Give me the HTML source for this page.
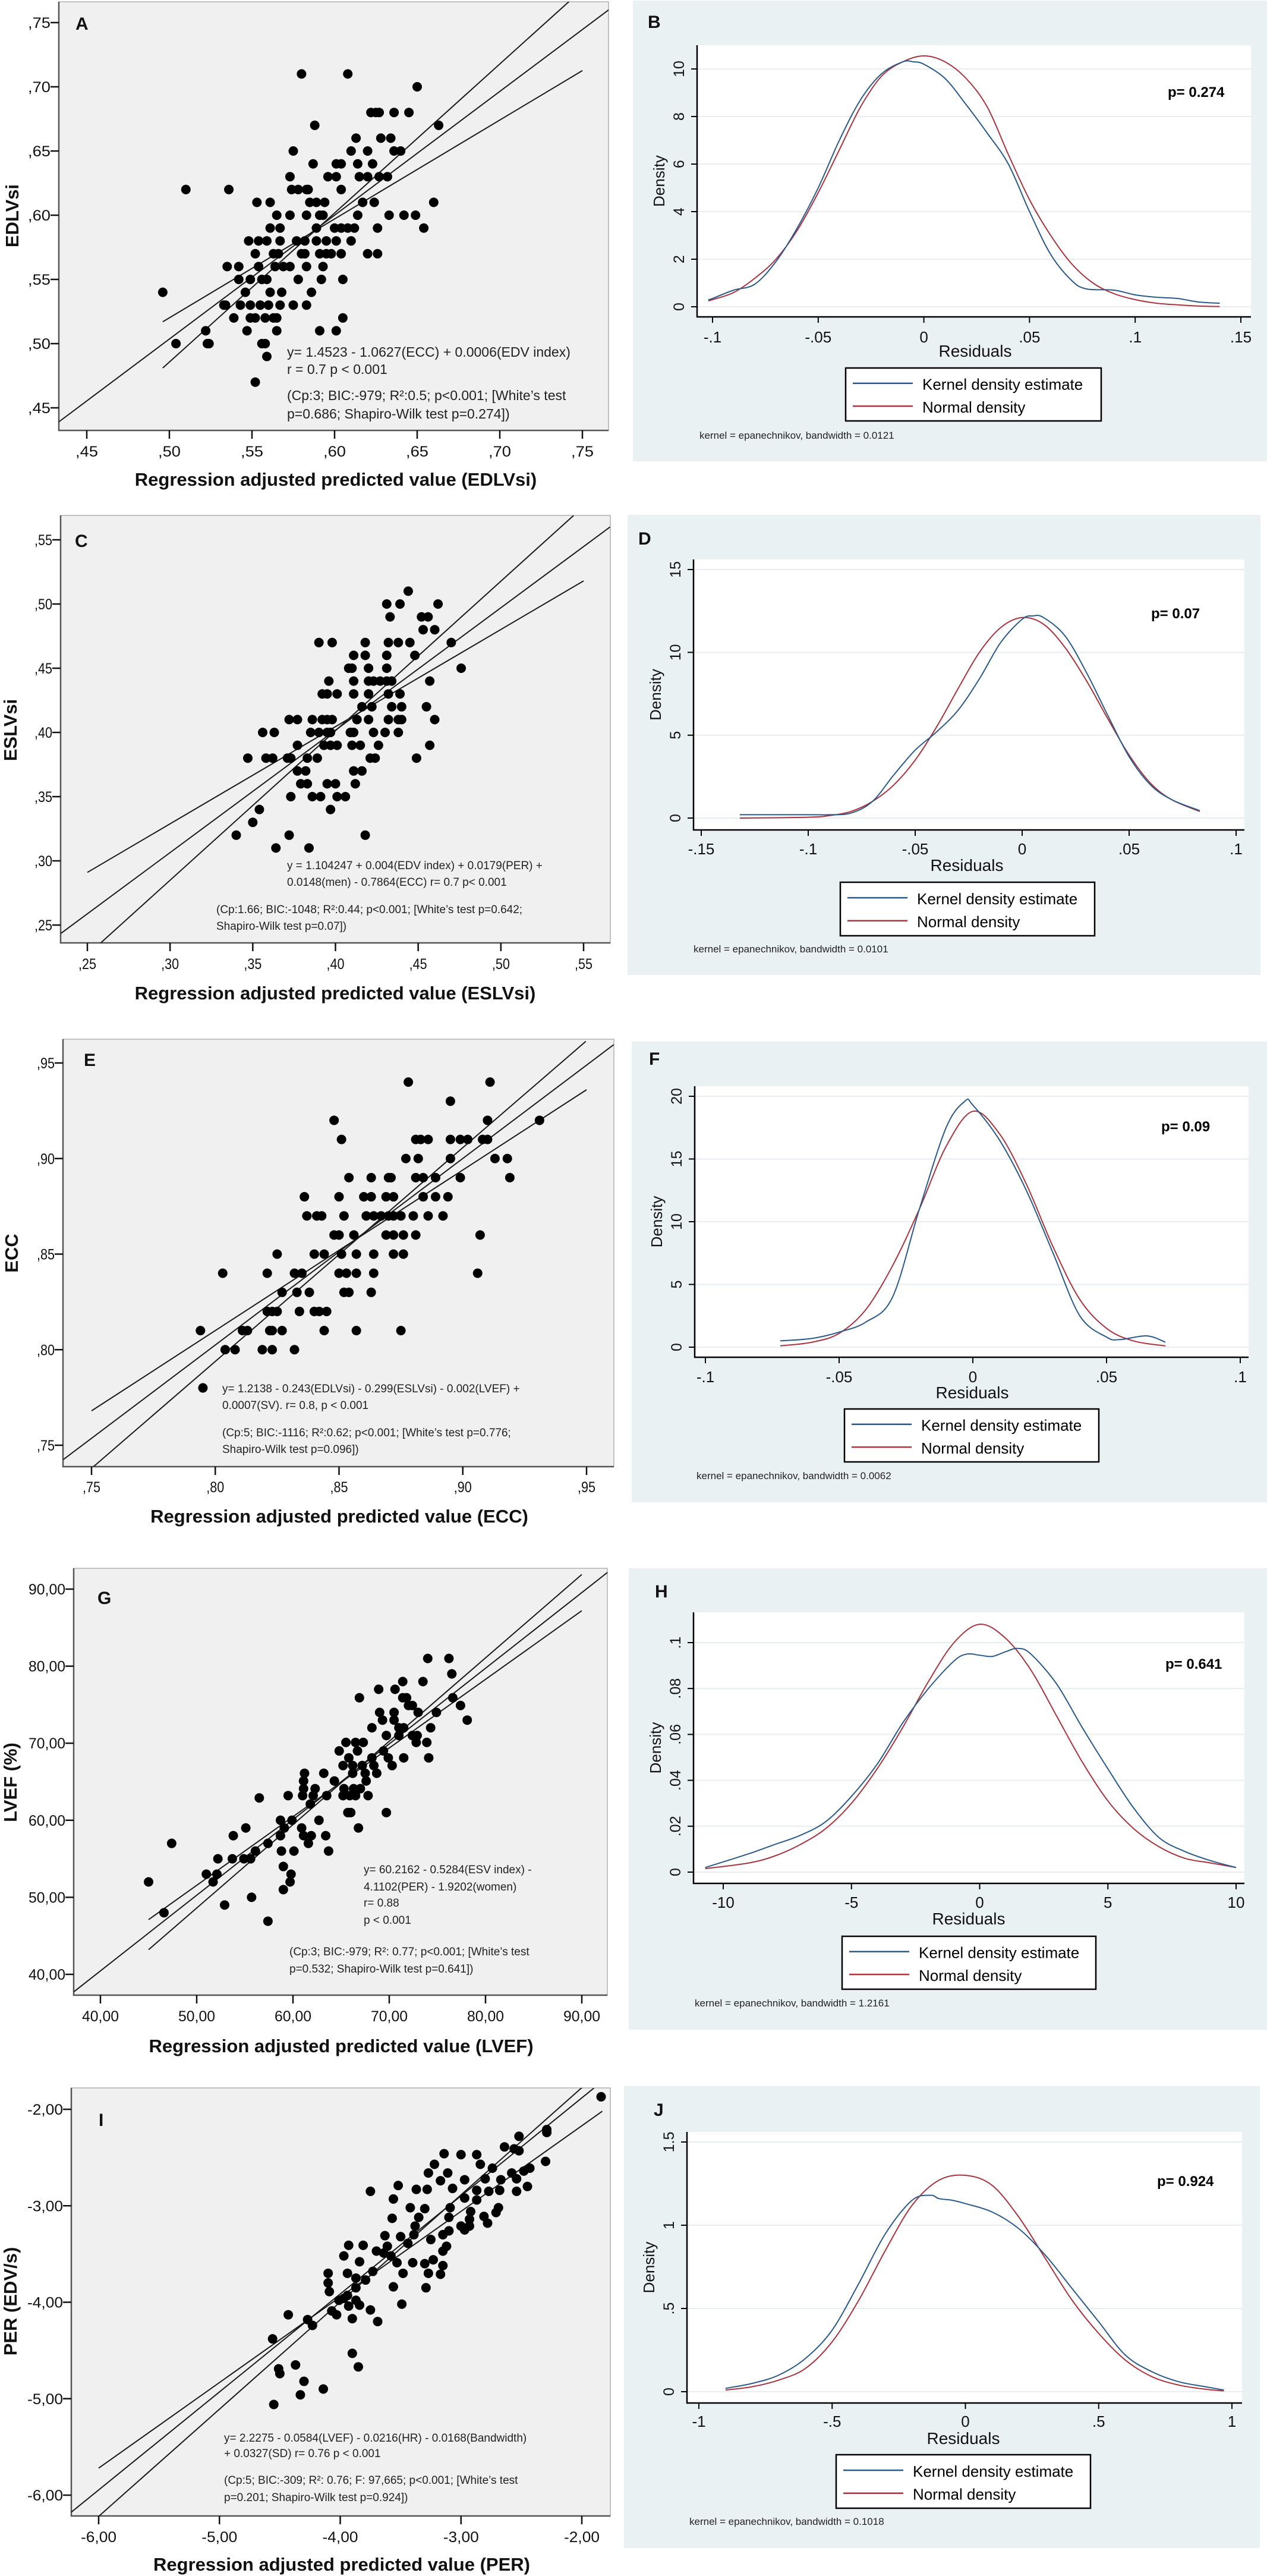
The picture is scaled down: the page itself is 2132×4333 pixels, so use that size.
<!DOCTYPE html>
<html><head><meta charset="utf-8">
<style>
html,body{margin:0;padding:0;background:#fff;}
svg{display:block;}
text{font-family:"Liberation Sans",sans-serif;}
</style></head>
<body>
<svg id="fig" xmlns="http://www.w3.org/2000/svg" width="2132" height="4333" viewBox="0 0 2132 4333"></svg>
<script>
// ---------- scatter data (x = predicted, y = observed) ----------
const pointsA = [[.580,.71],[.608,.71],[.650,.70],[.622,.68],[.625,.68],[.627,.68],[.636,.68],[.645,.68],[.588,.67],[.663,.67],[.613,.66],[.628,.66],[.634,.66],
[.575,.65],[.610,.65],[.620,.65],[.636,.65],[.640,.65],[.587,.64],[.601,.64],[.604,.64],[.614,.64],[.623,.64],[.573,.63],[.596,.63],[.601,.63],[.615,.63],[.620,.63],[.627,.63],[.632,.63],
[.510,.62],[.536,.62],[.574,.62],[.578,.62],[.583,.62],[.584,.62],[.604,.62],[.553,.61],[.561,.61],[.585,.61],[.589,.61],[.594,.61],[.617,.61],[.624,.61],[.660,.61],
[.565,.60],[.573,.60],[.583,.60],[.591,.60],[.593,.60],[.614,.60],[.633,.60],[.642,.60],[.649,.60],[.561,.59],[.567,.59],[.589,.59],[.600,.59],[.604,.59],[.608,.59],[.612,.59],[.626,.59],[.654,.59],
[.548,.58],[.554,.58],[.559,.58],[.567,.58],[.577,.58],[.582,.58],[.589,.58],[.595,.58],[.601,.58],[.610,.58],[.552,.57],[.563,.57],[.566,.57],[.580,.57],[.582,.57],[.591,.57],[.595,.57],[.598,.57],[.604,.57],[.620,.57],[.626,.57],
[.535,.56],[.542,.56],[.554,.56],[.564,.56],[.569,.56],[.573,.56],[.583,.56],[.593,.56],[.542,.55],[.549,.55],[.556,.55],[.559,.55],[.578,.55],[.592,.55],[.605,.55],
[.496,.54],[.546,.54],[.561,.54],[.568,.54],[.586,.54],[.533,.53],[.534,.53],[.543,.53],[.549,.53],[.555,.53],[.560,.53],[.567,.53],[.575,.53],[.583,.53],
[.539,.52],[.549,.52],[.552,.52],[.558,.52],[.563,.52],[.565,.52],[.605,.52],[.522,.51],[.547,.51],[.565,.51],[.591,.51],[.601,.51],[.504,.50],[.523,.50],[.524,.50],[.556,.50],[.558,.50],[.559,.49],[.552,.47]];
const pointsC = [[.444,.51],[.431,.50],[.439,.50],[.462,.50],[.433,.49],[.452,.49],[.456,.49],[.453,.48],[.460,.48],[.390,.47],[.398,.47],[.418,.47],[.432,.47],[.438,.47],[.445,.47],[.470,.47],
[.411,.46],[.418,.46],[.431,.46],[.448,.46],[.408,.45],[.410,.45],[.420,.45],[.431,.45],[.476,.45],[.396,.44],[.411,.44],[.420,.44],[.423,.44],[.427,.44],[.431,.44],[.434,.44],[.457,.44],
[.392,.43],[.395,.43],[.401,.43],[.411,.43],[.420,.43],[.432,.43],[.439,.43],[.416,.42],[.422,.42],[.434,.42],[.440,.42],[.455,.42],
[.372,.41],[.377,.41],[.386,.41],[.392,.41],[.395,.41],[.398,.41],[.413,.41],[.420,.41],[.432,.41],[.438,.41],[.440,.41],[.460,.41],
[.356,.40],[.363,.40],[.385,.40],[.390,.40],[.395,.40],[.397,.40],[.409,.40],[.411,.40],[.423,.40],[.430,.40],[.438,.40],
[.377,.39],[.393,.39],[.397,.39],[.401,.39],[.410,.39],[.415,.39],[.426,.39],[.457,.39],[.347,.38],[.358,.38],[.362,.38],[.371,.38],[.373,.38],[.383,.38],[.389,.38],[.421,.38],[.424,.38],[.449,.38],
[.377,.37],[.382,.37],[.411,.37],[.416,.37],[.379,.36],[.383,.36],[.395,.36],[.400,.36],[.412,.36],[.373,.35],[.386,.35],[.391,.35],[.401,.35],[.406,.35],
[.354,.34],[.397,.34],[.350,.33],[.340,.32],[.372,.32],[.418,.32],[.364,.31],[.384,.31]];
const pointsE = [[.878,.94],[.911,.94],[.895,.93],[.848,.92],[.910,.92],[.931,.92],[.851,.91],[.881,.91],[.883,.91],[.886,.91],[.895,.91],[.899,.91],[.902,.91],[.908,.91],[.910,.91],
[.877,.90],[.882,.90],[.895,.90],[.913,.90],[.918,.90],[.854,.89],[.863,.89],[.870,.89],[.871,.89],[.881,.89],[.884,.89],[.889,.89],[.899,.89],[.919,.89],
[.836,.88],[.850,.88],[.860,.88],[.863,.88],[.869,.88],[.872,.88],[.884,.88],[.889,.88],[.894,.88],
[.837,.87],[.841,.87],[.843,.87],[.852,.87],[.861,.87],[.864,.87],[.867,.87],[.870,.87],[.872,.87],[.875,.87],[.880,.87],[.886,.87],[.892,.87],
[.848,.86],[.850,.86],[.856,.86],[.869,.86],[.872,.86],[.876,.86],[.881,.86],[.907,.86],[.825,.85],[.840,.85],[.844,.85],[.851,.85],[.857,.85],[.864,.85],[.872,.85],[.876,.85],
[.803,.84],[.821,.84],[.832,.84],[.835,.84],[.850,.84],[.853,.84],[.857,.84],[.864,.84],[.906,.84],[.827,.83],[.833,.83],[.838,.83],[.852,.83],[.854,.83],[.863,.83],
[.821,.82],[.823,.82],[.825,.82],[.834,.82],[.840,.82],[.842,.82],[.845,.82],[.794,.81],[.811,.81],[.813,.81],[.822,.81],[.823,.81],[.827,.81],[.844,.81],[.857,.81],[.875,.81],
[.804,.80],[.808,.80],[.819,.80],[.823,.80],[.832,.80],[.795,.78]];
const pointsG = [[74.0,81.0],[76.2,81.0],[76.5,79.0],[71.4,78.0],[73.5,78.0],[66.9,75.9],[68.9,77.0],[70.6,77.0],[71.4,75.9],[71.8,75.9],[72.0,74.9],[72.4,74.9],[76.6,75.9],[77.4,74.9],[78.1,73.0],
[69.0,74.0],[70.5,74.0],[73.0,74.0],[74.9,74.0],[69.3,73.0],[70.5,73.0],[71.0,72.0],[71.5,72.0],[68.2,72.0],[74.3,72.0],[69.7,71.0],[71.0,71.0],[72.4,71.0],[72.9,71.0],
[65.5,70.1],[66.5,70.1],[67.3,70.1],[72.8,70.1],[73.9,70.1],[64.8,69.0],[66.7,69.0],[69.4,69.0],[65.8,68.1],[68.2,68.1],[69.9,68.1],[71.5,68.1],[74.1,68.1],
[65.2,67.1],[66.2,67.1],[67.2,67.1],[68.4,67.1],[70.3,67.1],[61.2,66.1],[63.2,66.1],[66.2,66.1],[67.5,66.1],[68.7,66.1],[61.1,65.1],[64.3,65.1],[67.6,65.1],
[61.1,64.1],[62.3,64.1],[65.3,64.1],[66.3,64.1],[67.0,64.1],[56.5,62.9],[59.5,63.2],[61.0,63.2],[62.1,63.2],[63.5,63.2],[65.2,63.2],[65.9,63.2],[66.5,63.2],[67.8,63.2],
[61.8,62.1],[65.7,61.0],[66.0,61.0],[69.7,61.0],[58.7,60.0],[59.9,60.0],[62.7,60.0],[55.1,59.0],[59.1,59.0],[60.9,59.0],[66.8,59.0],
[53.8,58.0],[58.7,58.0],[61.1,58.0],[61.9,58.0],[63.4,58.0],[47.4,57.0],[57.4,57.0],[61.6,57.0],[56.1,56.0],[58.8,56.0],[60.1,56.0],[63.7,56.0],
[52.2,55.0],[53.7,55.0],[54.9,55.0],[55.6,55.0],[59.0,54.0],[51.0,53.0],[52.1,53.0],[59.8,53.0],[51.7,52.0],[59.7,52.0],[45.0,52.0],[59.0,51.0],[55.7,50.0],[52.9,49.0],[46.6,48.0],[57.4,46.9]];
const pointsI = [[-1.84,-1.87],[-2.29,-2.21],[-2.29,-2.24],[-2.52,-2.28],[-2.64,-2.39],[-2.56,-2.41],[-2.52,-2.43],[-3.14,-2.46],[-3.00,-2.47],[-2.87,-2.47],[-2.30,-2.54],[-3.22,-2.57],[-2.84,-2.57],
[-2.74,-2.61],[-2.43,-2.61],[-2.48,-2.64],[-2.58,-2.66],[-3.27,-2.66],[-3.11,-2.66],[-2.97,-2.73],[-2.80,-2.72],[-2.67,-2.73],[-2.54,-2.72],[-3.17,-2.74],
[-3.52,-2.79],[-3.75,-2.85],[-3.37,-2.83],[-3.28,-2.83],[-3.07,-2.82],[-2.87,-2.84],[-2.77,-2.85],[-2.68,-2.84],[-2.45,-2.80],[-2.54,-2.85],
[-3.56,-2.93],[-2.97,-2.92],[-2.87,-2.94],[-3.42,-3.02],[-3.30,-3.03],[-3.09,-3.02],[-2.69,-3.02],[-2.92,-3.06],[-2.71,-3.07],
[-3.57,-3.13],[-3.35,-3.12],[-3.10,-3.12],[-2.93,-3.14],[-2.81,-3.11],[-2.78,-3.18],[-3.38,-3.21],[-3.00,-3.21],[-2.93,-3.21],[-3.10,-3.26],[-2.97,-3.25],[-3.15,-3.30],
[-3.63,-3.31],[-3.39,-3.30],[-3.50,-3.32],[-3.25,-3.35],[-3.44,-3.39],[-3.93,-3.41],[-3.81,-3.41],[-3.61,-3.42],[-3.12,-3.42],[-3.70,-3.47],[-3.64,-3.49],[-3.15,-3.47],
[-3.97,-3.52],[-3.58,-3.52],[-3.84,-3.58],[-3.53,-3.59],[-3.40,-3.59],[-3.23,-3.56],[-3.30,-3.60],[-3.15,-3.62],[-4.10,-3.70],[-3.94,-3.70],[-3.73,-3.68],[-3.48,-3.70],[-3.27,-3.70],[-3.17,-3.71],
[-3.87,-3.75],[-3.79,-3.77],[-4.10,-3.80],[-3.56,-3.84],[-3.29,-3.85],[-4.09,-3.89],[-3.87,-3.85],[-3.94,-3.93],[-4.01,-3.98],[-3.87,-3.98],[-3.97,-3.96],
[-3.93,-4.04],[-3.84,-4.03],[-3.49,-4.02],[-4.07,-4.09],[-3.75,-4.08],[-4.43,-4.13],[-4.03,-4.13],[-4.27,-4.18],[-3.90,-4.17],[-3.69,-4.20],[-4.23,-4.24],
[-4.56,-4.38],[-3.90,-4.53],[-3.85,-4.67],[-4.37,-4.65],[-4.51,-4.69],[-4.50,-4.74],[-4.30,-4.82],[-4.14,-4.90],[-4.33,-4.96],[-4.55,-5.06]];
// regression fit & confidence bands (data units: [x,y] endpoints; bands cross the fit line)
const fitA=[[.433,.439],[.7665,.7605]], upA=[[.496,.481],[.742,.7665]], loA=[[.496,.517],[.75,.7126]];
const fitC=[[.234,.2435],[.566,.560]], upC=[[.258,.236],[.544,.569]], loC=[[.25,.291],[.55,.518]];
const fitE=[[.7386,.7425],[.961,.9596]], upE=[[.7507,.7387],[.9497,.9613]], loE=[[.75,.768],[.95,.936]];
const fitG=[[37.2,37.7],[92.7,92.2]], upG=[[45.0,43.2],[90.0,91.9]], loG=[[45.0,47.1],[90.0,87.2]];
const fitI=[[-6.23,-6.18],[-1.90,-1.78]], upI=[[-6.0,-6.22],[-1.95,-1.72]], loI=[[-6.0,-5.72],[-1.83,-2.02]];
// ---------- density data ----------
const kxB=[-.102,-.1,-.09,-.08,-.07,-.06,-.05,-.04,-.03,-.02,-.01,-.005,0,.01,.02,.03,.04,.05,.06,.07,.077,.09,.1,.11,.12,.13,.14];
const kyB=[.3,.35,.7,.95,1.9,3.3,5.0,7.0,8.7,9.8,10.3,10.3,10.2,9.6,8.5,7.3,6.0,4.0,2.2,1.1,.75,.7,.5,.4,.35,.2,.15];
const nxB=[-.102,-.1,-.09,-.08,-.07,-.06,-.05,-.04,-.03,-.02,-.01,0,.01,.02,.03,.04,.05,.06,.07,.08,.09,.1,.11,.12,.13,.14];
const nyB=[.25,.3,.6,1.2,2.0,3.2,4.8,6.6,8.4,9.7,10.3,10.55,10.3,9.6,8.4,6.4,4.5,3.0,1.8,1.0,.55,.3,.15,.08,.03,.01];
const kxD=[-.132,-.1,-.09,-.08,-.07,-.06,-.05,-.04,-.03,-.02,-.01,0,.005,.01,.02,.03,.04,.05,.06,.07,.083];
const kyD=[.2,.2,.2,.3,1.0,2.6,4.1,5.2,6.5,8.4,10.6,12.0,12.2,12.1,11.0,8.8,6.2,3.7,2.0,1.1,.45];
const nxD=[-.132,-.1,-.09,-.08,-.07,-.06,-.05,-.04,-.03,-.02,-.01,0,.01,.02,.03,.04,.05,.06,.07,.083];
const nyD=[0,.05,.15,.4,1.0,2.0,3.5,5.5,7.8,10.0,11.5,12.1,11.7,10.3,8.3,6.0,3.8,2.1,1.1,.4];
const kxF=[-.072,-.06,-.05,-.04,-.03,-.02,-.01,-.003,0,.01,.02,.03,.04,.05,.055,.065,.072];
const kyF=[.5,.7,1.2,2.0,4.0,11,17.5,19.6,19.3,16.5,12.5,7.5,2.5,.8,.6,.9,.4];
const nxF=[-.072,-.06,-.05,-.04,-.03,-.02,-.01,0,.01,.02,.03,.04,.05,.06,.072];
const nyF=[.1,.4,1.1,3,6.5,11,16,18.8,17,13,8,3.8,1.5,.5,.1];
const kxH=[-10.7,-9,-8,-7,-6,-5,-4,-3,-2,-1,-.5,0,.5,1,1.5,2,3,4,5,6,7,8,9,10];
const kyH=[.002,.008,.012,.016,.022,.033,.047,.065,.080,.092,.095,.0945,.094,.096,.0975,.095,.082,.063,.045,.028,.015,.009,.005,.002];
const nxH=[-10.7,-9,-8,-7,-6,-5,-4,-3,-2,-1,0,1,2,3,4,5,6,7,8,9,10];
const nyH=[.0015,.004,.007,.012,.019,.030,.045,.063,.083,.100,.108,.102,.088,.068,.048,.031,.019,.011,.006,.004,.002];
const kxJ=[-.9,-.8,-.7,-.6,-.5,-.4,-.3,-.2,-.13,-.1,-.05,0,.1,.2,.3,.4,.5,.6,.7,.8,.9,.97];
const kyJ=[.02,.05,.1,.2,.37,.65,.95,1.15,1.18,1.16,1.15,1.13,1.08,.98,.82,.62,.42,.22,.12,.06,.03,.01];
const nxJ=[-.9,-.8,-.7,-.6,-.5,-.4,-.3,-.2,-.1,0,.1,.2,.3,.4,.5,.6,.7,.8,.9,.97];
const nyJ=[.01,.03,.07,.14,.30,.55,.85,1.12,1.27,1.30,1.24,1.05,.80,.55,.35,.19,.09,.04,.015,.005];
// tick labels
const ticksA=[.45,.50,.55,.60,.65,.70,.75], tickLabA=[',45',',50',',55',',60',',65',',70',',75'];
const ticksC=[.25,.30,.35,.40,.45,.50,.55], tickLabC=[',25',',30',',35',',40',',45',',50',',55'];
const ticksE=[.75,.80,.85,.90,.95], tickLabE=[',75',',80',',85',',90',',95'];
const ticksG=[40,50,60,70,80,90], tickLabG=['40,00','50,00','60,00','70,00','80,00','90,00'];
const ticksI=[-6,-5,-4,-3,-2], tickLabI=['-6,00','-5,00','-4,00','-3,00','-2,00'];

const NS='http://www.w3.org/2000/svg';
const svg=document.getElementById('fig');
function mk(tag,at,parent){const e=document.createElementNS(NS,tag);for(const k in at)e.setAttribute(k,at[k]);(parent||svg).appendChild(e);return e;}
function txt(str,at,parent){const e=mk('text',at,parent);e.textContent=str;return e;}
function lin(v0,p0,v1,p1){return v=>p0+(v-v0)*(p1-p0)/(v1-v0);}
function smooth(P){
  let d='M'+P[0][0].toFixed(1)+','+P[0][1].toFixed(1);
  for(let i=0;i<P.length-1;i++){
    const p0=P[Math.max(0,i-1)],p1=P[i],p2=P[i+1],p3=P[Math.min(P.length-1,i+2)];
    const c1=[p1[0]+(p2[0]-p0[0])/6,p1[1]+(p2[1]-p0[1])/6];
    const c2=[p2[0]-(p3[0]-p1[0])/6,p2[1]-(p3[1]-p1[1])/6];
    d+='C'+c1[0].toFixed(1)+','+c1[1].toFixed(1)+' '+c2[0].toFixed(1)+','+c2[1].toFixed(1)+' '+p2[0].toFixed(1)+','+p2[1].toFixed(1);
  }
  return d;
}

function scatter(c){
  const g=mk('g',{});
  
  
  const X=lin(c.xv[0],c.xp[0],c.xv[1],c.xp[1]), Y=lin(c.yv[0],c.yp[0],c.yv[1],c.yp[1]);
  const f=c.frame;
  const bg=mk('rect',{x:f[0],y:f[1],width:f[2]-f[0],height:f[3]-f[1],fill:'#f0f0f0',stroke:'#b0b0b0','stroke-width':1.5},g);
  
  
  const cp=mk('clipPath',{id:'clip'+c.id},g);
  mk('rect',{x:f[0],y:f[1],width:f[2]-f[0],height:f[3]-f[1]},cp);
  const ax=mk('path',{d:`M${f[0]},${f[1]}V${f[3]}H${f[2]}`,stroke:'#555',fill:'none','stroke-width':2.5},g);
  
  
  c.ticks.forEach((t,i)=>{
    const px=X(t), py=Y(t);
    if(py>=f[1]-2&&py<=f[3]){
      const tk=mk('line',{x1:f[0]-14,x2:f[0],y1:py,y2:py,stroke:'#111','stroke-width':2.5},g);
      
      
      const tl=txt(c.labs[i],{x:f[0]-14,y:py+9,'text-anchor':'end','font-size':25,fill:'#111','textLength':c.lw,'lengthAdjust':'spacingAndGlyphs'},g);
      
      
    }
    const tk2=mk('line',{x1:px,x2:px,y1:f[3],y2:f[3]+14,stroke:'#111','stroke-width':2.5},g);
    
    
    const tl2=txt(c.labs[i],{x:px,y:c.xlabY,'text-anchor':'middle','font-size':25,fill:'#111','textLength':c.lw,'lengthAdjust':'spacingAndGlyphs'},g);
    
    
  });
  const lg=mk('g',{'clip-path':`url(#clip${c.id})`},g);
  [c.fit,c.up,c.lo].forEach((L,k)=>{
    const l=mk('line',{x1:X(L[0][0]),y1:Y(L[0][1]),x2:X(L[1][0]),y2:Y(L[1][1]),stroke:'#1a1a1a','stroke-width':2},lg);
    
    
  });
  c.pts.forEach(p=>{
    const d=mk('circle',{cx:X(p[0]),cy:Y(p[1]),r:8,fill:'#000'},g);
    
    
  });
  const let_=txt(c.letter,{x:c.letterPos[0],y:c.letterPos[1],'font-size':30,'font-weight':'bold',fill:'#111'},g);
  
  
  c.ann.forEach(a=>{
    const t=txt(a[2],{x:a[0],y:a[1],'font-size':c.annSize||22,fill:'#222'},g);
    
    
  });
  const xt=txt(c.xtitle,{x:c.xtPos[0],y:c.xtPos[1],'text-anchor':'middle','font-size':31,'font-weight':'bold',fill:'#111'},g);
  
  
  const yt=txt(c.ytitle,{x:0,y:0,transform:`translate(${c.ytPos[0]},${c.ytPos[1]}) rotate(-90)`,'text-anchor':'middle','font-size':31,'font-weight':'bold',fill:'#111'},g);
  
  
}

function density(c){
  const g=mk('g',{});
  
  
  const b=c.bg;
  const bgr=mk('rect',{x:b[0],y:b[1],width:b[2]-b[0],height:b[3]-b[1],fill:'#eaf1f3'},g);
  
  
  const f=c.plot;
  const pr=mk('rect',{x:f[0],y:f[1],width:f[2]-f[0],height:f[3]-f[1],fill:'#fff'},g);
  
  
  const X=lin(c.xv[0],c.xp[0],c.xv[1],c.xp[1]), Y=lin(c.yv[0],c.yp[0],c.yv[1],c.yp[1]);
  c.yt.forEach((t,i)=>{
    const py=Y(t);
    const gl=mk('line',{x1:f[0],x2:f[2],y1:py,y2:py,stroke:'#e6eef1','stroke-width':2},g);
    
    
    const tk=mk('line',{x1:f[0]-10,x2:f[0],y1:py,y2:py,stroke:'#000','stroke-width':2},g);
    
    
    const tl=txt(c.ytl[i],{x:0,y:0,transform:`translate(${f[0]-22},${py}) rotate(-90)`,'text-anchor':'middle','font-size':25,fill:'#111'},g);
    
    
  });
  const ax=mk('path',{d:`M${f[0]},${f[1]}V${f[3]}H${f[2]}`,stroke:'#000',fill:'none','stroke-width':2.5},g);
  
  
  c.xt.forEach((t,i)=>{
    const px=X(t);
    const tk=mk('line',{x1:px,x2:px,y1:f[3],y2:f[3]+10,stroke:'#000','stroke-width':2},g);
    
    
    const tl=txt(c.xtl[i],{x:px,y:c.xlabY,'text-anchor':'middle','font-size':26,fill:'#111'},g);
    
    
  });
  const nd=smooth(c.nx.map((v,i)=>[X(v),Y(c.ny[i])]));
  const np=mk('path',{d:nd,fill:'none',stroke:'#a83440','stroke-width':2},g);
  
  
  const kd=smooth(c.kx.map((v,i)=>[X(v),Y(c.ky[i])]));
  const kp=mk('path',{d:kd,fill:'none',stroke:'#2b5a88','stroke-width':2},g);
  
  
  const lt=txt(c.letter,{x:c.letterPos[0],y:c.letterPos[1],'font-size':30,'font-weight':'bold',fill:'#111'},g);
  
  
  const pt=txt(c.ptext,{x:c.pPos[0],y:c.pPos[1],'font-size':24,'font-weight':'bold',fill:'#000'},g);
  
  
  const yt=txt('Density',{x:0,y:0,transform:`translate(${f[0]-55},${(f[1]+f[3])/2}) rotate(-90)`,'text-anchor':'middle','font-size':26,fill:'#111'},g);
  
  
  const xt=txt('Residuals',{x:c.resPos[0],y:c.resPos[1],'text-anchor':'middle','font-size':28,fill:'#111'},g);
  
  
  const L=c.leg;
  const lb=mk('rect',{x:L[0],y:L[1],width:L[2]-L[0],height:L[3]-L[1],fill:'#fff',stroke:'#000','stroke-width':2.5},g);
  
  
  const h=L[3]-L[1];
  const l1=mk('line',{x1:L[0]+12,x2:L[0]+113,y1:L[1]+h*0.29,y2:L[1]+h*0.29,stroke:'#2b5a88','stroke-width':2.5},g);
  
  
  const t1=txt('Kernel density estimate',{x:L[0]+129,y:L[1]+h*0.41,'font-size':26,fill:'#000'},g);
  
  
  const l2=mk('line',{x1:L[0]+12,x2:L[0]+113,y1:L[1]+h*0.72,y2:L[1]+h*0.72,stroke:'#a83440','stroke-width':2.5},g);
  
  
  const t2=txt('Normal density',{x:L[0]+129,y:L[1]+h*0.84,'font-size':26,fill:'#000'},g);
  
  
  const kn=txt(c.note,{x:c.notePos[0],y:c.notePos[1],'font-size':17,fill:'#222'},g);
  
  
}

scatter({id:'a',frame:[99,3,1024,724],xv:[.45,.75],xp:[146,980],yv:[.75,.45],yp:[38,686],ticks:ticksA,labs:tickLabA,lw:38,xlabY:768,
 pts:pointsA,fit:fitA,up:upA,lo:loA,letter:'A',letterPos:[127,50],
 ann:[[483,600,'y= 1.4523 - 1.0627(ECC) + 0.0006(EDV index)'],[483,629,'r = 0.7    p < 0.001'],[483,673,'(Cp:3; BIC:-979; R²:0.5; p<0.001; [White’s test'],[483,704,'p=0.686; Shapiro-Wilk test p=0.274])']],annSize:23,
 xtitle:'Regression adjusted predicted value (EDLVsi)',xtPos:[565,817],ytitle:'EDLVsi',ytPos:[31,363]});
scatter({id:'c',frame:[102,867,1027,1586],xv:[.25,.55],xp:[147,982],yv:[.55,.25],yp:[908,1556],ticks:ticksC,labs:tickLabC,lw:30,xlabY:1630,
 pts:pointsC,fit:fitC,up:upC,lo:loC,letter:'C',letterPos:[126,920],
 ann:[[483,1462,'y = 1.104247 + 0.004(EDV index) + 0.0179(PER) +'],[483,1490,'0.0148(men) - 0.7864(ECC)   r= 0.7  p< 0.001'],[364,1536,'(Cp:1.66; BIC:-1048; R²:0.44; p<0.001; [White’s test p=0.642;'],[364,1564,'Shapiro-Wilk test p=0.07])']],annSize:19,
 xtitle:'Regression adjusted predicted value (ESLVsi)',xtPos:[564,1681],ytitle:'ESLVsi',ytPos:[28,1228]});
scatter({id:'e',frame:[106,1748,1033,2467],xv:[.75,.95],xp:[154,987],yv:[.95,.75],yp:[1788,2431],ticks:ticksE,labs:tickLabE,lw:30,xlabY:2510,
 pts:pointsE,fit:fitE,up:upE,lo:loE,letter:'E',letterPos:[141,1793],
 ann:[[374,2342,'y= 1.2138 - 0.243(EDLVsi) - 0.299(ESLVsi) - 0.002(LVEF) +'],[374,2370,'0.0007(SV).   r= 0.8, p < 0.001'],[374,2416,'(Cp:5; BIC:-1116; R²:0.62; p<0.001; [White’s test p=0.776;'],[374,2444,'Shapiro-Wilk test p=0.096])']],annSize:19,
 xtitle:'Regression adjusted predicted value (ECC)',xtPos:[571,2561],ytitle:'ECC',ytPos:[30,2108]});
scatter({id:'g',frame:[124,2638,1022,3356],xv:[40,90],xp:[169,979],yv:[90,40],yp:[2673,3321],ticks:ticksG,labs:tickLabG,lw:62,xlabY:3400,
 pts:pointsG,fit:fitG,up:upG,lo:loG,letter:'G',letterPos:[164,2698],
 ann:[[612,3151,'y= 60.2162 - 0.5284(ESV index) -'],[612,3180,'4.1102(PER) - 1.9202(women)'],[612,3207,'r= 0.88'],[612,3236,'p < 0.001'],[487,3289,'(Cp:3; BIC:-979; R²: 0.77; p<0.001; [White’s test'],[487,3318,'p=0.532; Shapiro-Wilk test p=0.641])']],annSize:19,
 xtitle:'Regression adjusted predicted value (LVEF)',xtPos:[574,3452],ytitle:'LVEF (%)',ytPos:[28,2998]});
scatter({id:'i',frame:[120,3512,1027,4232],xv:[-6,-2],xp:[166,979],yv:[-2,-6],yp:[3548,4197],ticks:ticksI,labs:tickLabI,lw:60,xlabY:4276,
 pts:pointsI,fit:fitI,up:upI,lo:loI,letter:'I',letterPos:[166,3576],
 ann:[[377,4107,'y= 2.2275 - 0.0584(LVEF) - 0.0216(HR) - 0.0168(Bandwidth)'],[377,4133,'+ 0.0327(SD)    r= 0.76    p < 0.001'],[377,4178,'(Cp:5; BIC:-309; R²: 0.76; F: 97,665; p<0.001; [White’s test'],[377,4207,'p=0.201; Shapiro-Wilk test p=0.924])']],annSize:19,
 xtitle:'Regression adjusted predicted value (PER)',xtPos:[575,4324],ytitle:'PER (EDV/s)',ytPos:[28,3871]});

density({id:'b',bg:[1065,1,2132,776],plot:[1173,76,2105,533],xv:[-.1,.15],xp:[1199,2088],yv:[0,10],yp:[516,116],
 yt:[0,2,4,6,8,10],ytl:['0','2','4','6','8','10'],xt:[-.1,-.05,0,.05,.1,.15],xtl:['-.1','-.05','0','.05','.1','.15'],xlabY:576,
 kx:kxB,ky:kyB,nx:nxB,ny:nyB,letter:'B',letterPos:[1090,47],ptext:'p= 0.274',pPos:[1965,163],resPos:[1641,600],
 leg:[1423,619,1853,708],note:'kernel = epanechnikov, bandwidth = 0.0121',notePos:[1177,738]});
density({id:'d',bg:[1056,866,2121,1640],plot:[1167,941,2094,1396],xv:[-.15,.1],xp:[1180,2080],yv:[0,15],yp:[1376,958],
 yt:[0,5,10,15],ytl:['0','5','10','15'],xt:[-.15,-.1,-.05,0,.05,.1],xtl:['-.15','-.1','-.05','0','.05','.1'],xlabY:1437,
 kx:kxD,ky:kyD,nx:nxD,ny:nyD,letter:'D',letterPos:[1074,916],ptext:'p= 0.07',pPos:[1937,1040],resPos:[1627,1465],
 leg:[1414,1484,1842,1574],note:'kernel = epanechnikov, bandwidth = 0.0101',notePos:[1167,1602]});
density({id:'f',bg:[1063,1752,2132,2527],plot:[1169,1827,2101,2283],xv:[-.1,.1],xp:[1187,2087],yv:[0,20],yp:[2266,1844],
 yt:[0,5,10,15,20],ytl:['0','5','10','15','20'],xt:[-.1,-.05,0,.05,.1],xtl:['-.1','-.05','0','.05','.1'],xlabY:2325,
 kx:kxF,ky:kyF,nx:nxF,ny:nyF,letter:'F',letterPos:[1092,1791],ptext:'p= 0.09',pPos:[1954,1903],resPos:[1636,2352],
 leg:[1421,2370,1849,2459],note:'kernel = epanechnikov, bandwidth = 0.0062',notePos:[1172,2488]});
density({id:'h',bg:[1058,2638,2132,3414],plot:[1167,2712,2094,3168],xv:[-10,10],xp:[1217,2080],yv:[0,.1],yp:[3149,2763],
 yt:[0,.02,.04,.06,.08,.1],ytl:['0','.02','.04','.06','.08','.1'],xt:[-10,-5,0,5,10],xtl:['-10','-5','0','5','10'],xlabY:3209,
 kx:kxH,ky:kyH,nx:nxH,ny:nyH,letter:'H',letterPos:[1102,2687],ptext:'p= 0.641',pPos:[1961,2807],resPos:[1630,3237],
 leg:[1417,3257,1844,3346],note:'kernel = epanechnikov, bandwidth = 1.2161',notePos:[1169,3375]});
density({id:'j',bg:[1050,3509,2120,4286],plot:[1156,3586,2090,4042],xv:[-1,1],xp:[1176,2073],yv:[0,1.5],yp:[4023,3603],
 yt:[0,.5,1,1.5],ytl:['0','.5','1','1.5'],xt:[-1,-.5,0,.5,1],xtl:['-1','-.5','0','.5','1'],xlabY:4082,
 kx:kxJ,ky:kyJ,nx:nxJ,ny:nyJ,letter:'J',letterPos:[1100,3559],ptext:'p= 0.924',pPos:[1947,3677],resPos:[1621,4111],
 leg:[1407,4129,1835,4219],note:'kernel = epanechnikov, bandwidth = 0.1018',notePos:[1160,4247]});
</script>
</body></html>
